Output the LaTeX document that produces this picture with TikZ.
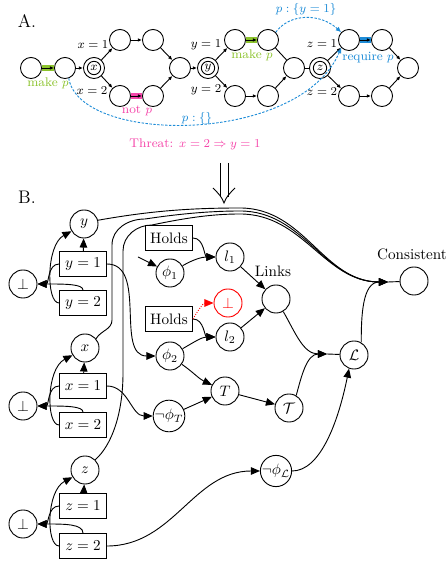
\documentclass[tikz,border=0pt]{standalone}
\usetikzlibrary{arrows.meta}
\definecolor{mkgreen}{RGB}{140,195,45}
\definecolor{npink}{RGB}{245,70,170}
\definecolor{rqblue}{RGB}{30,140,215}
\begin{document}
\begin{tikzpicture}[x=0.66pt,y=0.66pt,line width=0.6pt,
  sc/.style={circle,draw,minimum size=13.9pt,inner sep=0pt},
  vin/.style={circle,draw,minimum size=8.8pt,inner sep=0pt,font=\footnotesize},
  ar/.style={-{Latex[length=2.8pt,width=2.4pt]}},
  lbl/.style={font=\fontsize{8.3}{10}\selectfont},
  bdash/.style={dash pattern=on 1.6pt off 1pt},
  bar/.style={line width=3.5pt},
  bc/.style={circle,draw,minimum size=18.5pt,inner sep=0pt},
  bx/.style={rectangle,draw,minimum width=31pt,minimum height=16.5pt,inner sep=1pt},
  br/.style={-{Triangle[length=6pt,width=5pt]}}]
\useasboundingbox (0,0) rectangle (447,563);
% ---------- Part A ----------
\node[font=\large] (la) at (27,542) {A.};
\node[sc] (c1) at (31,495) {};
\node[sc] (c2) at (65,495) {};
\node[sc] (vx) at (94,495) {};
\node[vin] (vxi) at (94,495) {$x$};
\node[sc] (t1) at (120,523) {};
\node[sc] (t2) at (153,523) {};
\node[sc] (b1) at (120,467) {};
\node[sc] (b2) at (153,467) {};
\node[sc] (m1) at (180,495) {};
\node[sc] (vy) at (208,495) {};
\node[vin] (vyi) at (208,495) {$y$};
\node[sc] (t3) at (235,523) {};
\node[sc] (t4) at (268,523) {};
\node[sc] (b3) at (235,467) {};
\node[sc] (b4) at (268,467) {};
\node[sc] (m2) at (294,495) {};
\node[sc] (vz) at (320,495) {};
\node[vin] (vzi) at (320,495) {$z$};
\node[sc] (t5) at (349,523) {};
\node[sc] (t6) at (382,523) {};
\node[sc] (b5) at (349,467) {};
\node[sc] (b6) at (382,467) {};
\node[sc] (fin) at (408,495) {};
\draw[mkgreen,bar] (c1) -- (c2);
\draw[npink,bar] (b1) -- (b2);
\draw[mkgreen,bar] (t3) -- (t4);
\draw[rqblue,bar] (t5) -- (t6);
\draw[ar] (c1) -- (c2);
\draw[ar] (c2) -- (vx);
\draw[ar] (vx) -- (t1);
\draw[ar] (vx) -- (b1);
\draw[ar] (t1) -- (t2);
\draw[ar] (b1) -- (b2);
\draw[ar] (t2) -- (m1);
\draw[ar] (b2) -- (m1);
\draw[ar] (m1) -- (vy);
\draw[ar] (vy) -- (t3);
\draw[ar] (vy) -- (b3);
\draw[ar] (t3) -- (t4);
\draw[ar] (b3) -- (b4);
\draw (t4) -- (m2);
\draw[ar] (b4) -- (m2);
\draw (m2) -- (vz);
\draw[ar] (vz) -- (t5);
\draw[ar] (vz) -- (b5);
\draw[ar] (t5) -- (t6);
\draw[ar] (b5) -- (b6);
\draw[ar] (t6) -- (fin);
\draw[ar] (b6) -- (fin);
\node[lbl] (lx1) at (93,518) {$x = 1$};
\node[lbl] (lx2) at (92,472) {$x = 2$};
\node[lbl] (ly1) at (206,518) {$y = 1$};
\node[lbl] (ly2) at (206,473) {$y = 2$};
\node[lbl] (lz1) at (322,519) {$z = 1$};
\node[lbl] (lz2) at (322,471) {$z = 2$};
\node[lbl,text=mkgreen] (mk1) at (48,480) {make $p$};
\node[lbl,text=npink] (np) at (137,452) {not $p$};
\node[lbl,text=mkgreen] (mk2) at (252,508) {make $p$};
\node[lbl,text=rqblue] (rq) at (368,505) {require $p$};
\node[lbl,text=rqblue] (py1) at (306,554) {$p:\{y = 1\}$};
\node[lbl,text=rqblue] (pe) at (197,445) {$p:\{\}$};
\node[lbl,text=npink] (threat) at (195,419) {Threat: $x = 2 \Rightarrow y = 1$};
\draw[rqblue,bdash,-{Latex[length=3.6pt,width=3.2pt]}] (c2.-70) .. controls (80,418) and (300,418) .. (t5.-135);
\draw[rqblue,bdash,-{Latex[length=3.6pt,width=3.2pt]}] (t4.45) .. controls (290,550) and (320,550) .. (t5.135);
% ---------- big arrow ----------
\draw (220,400) -- (220,366);
\draw (228,400) -- (228,366);
\draw (213,375) .. controls (218,370) and (222,366) .. (224,360) .. controls (226,366) and (230,370) .. (235,375);
% ---------- Part B ----------
\node[font=\large] (lb) at (27,366) {B.};
\node[bc] (ny) at (84,339) {$y$};
\node[bx] (y1) at (83,299) {$y = 1$};
\node[bx] (y2) at (83,260) {$y = 2$};
\node[bc] (boty) at (23,279) {$\bot$};
\node[bc] (nx) at (85,215) {$x$};
\node[bx] (x1) at (83,177) {$x = 1$};
\node[bx] (x2) at (83,138) {$x = 2$};
\node[bc] (botx) at (23,157) {$\bot$};
\node[bc] (nz) at (85,93) {$z$};
\node[bx] (z1) at (83,57) {$z = 1$};
\node[bx] (z2) at (83,17) {$z = 2$};
\node[bc] (botz) at (23,39) {$\bot$};
\node[bx] (h1) at (169,325) {Holds};
\node[bc] (phi1) at (170,290) {$\phi_1$};
\node[bx] (h2) at (169,244) {Holds};
\node[bc] (phi2) at (170,207) {$\phi_2$};
\node[bc] (l1) at (230,306) {$l_1$};
\node[bc,red] (rb) at (228,260) {$\bot$};
\node[bc] (l2) at (230,226) {$l_2$};
\node[bc] (lk) at (276,264) {};
\node (lkl) at (273,292) {Links};
\node[bc] (cons) at (414,282) {};
\node (consl) at (412,309) {Consistent};
\node[bc] (Ln) at (354,208) {$\mathcal{L}$};
\node[bc] (T) at (225,172) {$T$};
\node[bc] (Tc) at (289,155) {$\mathcal{T}$};
\node[bc] (npt) at (169,147) {$\neg\phi_T$};
\node[bc] (npl) at (276,92) {$\neg\phi_{\mathcal{L}}$};
\coordinate (jc) at (388,281);
\coordinate (jL) at (327,209);
\coordinate (fr) at (138,306);
% variable groups
\draw[br] (y1) -- (ny);
\draw[br] (y2.west) .. controls (46,260) and (46,318) .. (ny.210);
\draw[br] (y1.west) to[out=180,in=0] (boty.east);
\draw[br] (y2.north) .. controls (83,279) and (65,279) .. (boty.east);
\draw[br] (x1) -- (nx);
\draw[br] (x2.west) .. controls (46,138) and (46,194) .. (nx.210);
\draw[br] (x1.west) to[out=180,in=0] (botx.east);
\draw[br] (x2.north) .. controls (83,157) and (65,157) .. (botx.east);
\draw[br] (z1) -- (nz);
\draw[br] (z2.west) .. controls (46,17) and (46,72) .. (nz.210);
\draw[br] (z1.west) to[out=180,in=0] (botz.east);
\draw[br] (z2.north) .. controls (83,39) and (65,39) .. (botz.east);
% long lines to Consistent
\draw[br] (ny.15) .. controls (150,352) and (190,355) .. (240,355) to[out=0,in=180] (jc);
\draw[br] (nx.40) to[out=60,in=-90] (112,243) -- (112,318) to[out=90,in=180] (145,344) .. controls (185,350) and (215,352) .. (240,352) to[out=0,in=180] (jc);
\draw[br] (nz.45) .. controls (112,118) and (123,150) .. (123,190) -- (123,312) to[out=90,in=180] (152,338) .. controls (190,346) and (215,349) .. (240,349) to[out=0,in=180] (jc);
\draw[br] (Ln.60) to[out=90,in=180] (jc);
\draw (jc) -- (cons);
% middle
\draw[br] (fr) -- (phi1);
\draw[br] (h1.east) to[out=0,in=180] (l1.west);
\draw[br] (phi1) to[out=30,in=180] (l1.west);
\draw[br] (h2.east) to[out=0,in=180] (l2.west);
\draw[br] (phi2) to[out=30,in=180] (l2.west);
\draw[br,red,densely dotted] (h2.east) to[out=60,in=180] (rb.west);
\draw[br] (l1) -- (lk);
\draw[br] (l2) -- (lk);
\draw[br] (y1.east) to[out=0,in=180] (phi2.west);
\draw[br] (x1.east) to[out=0,in=180] (npt.west);
\draw[br] (phi2) to[out=-35,in=155] (T);
\draw[br] (npt) -- (T);
\draw[br] (T) -- (Tc);
\draw[br] (lk.-60) to[out=-60,in=180] (jL);
\draw[br] (Tc.60) to[out=75,in=180] (jL);
\draw (jL) -- (Ln);
\draw[br] (z2.east) to[out=0,in=180] (npl.west);
\draw[br] (npl.east) .. controls (320,92) and (338,140) .. (Ln.-110);
\end{tikzpicture}
\end{document}
